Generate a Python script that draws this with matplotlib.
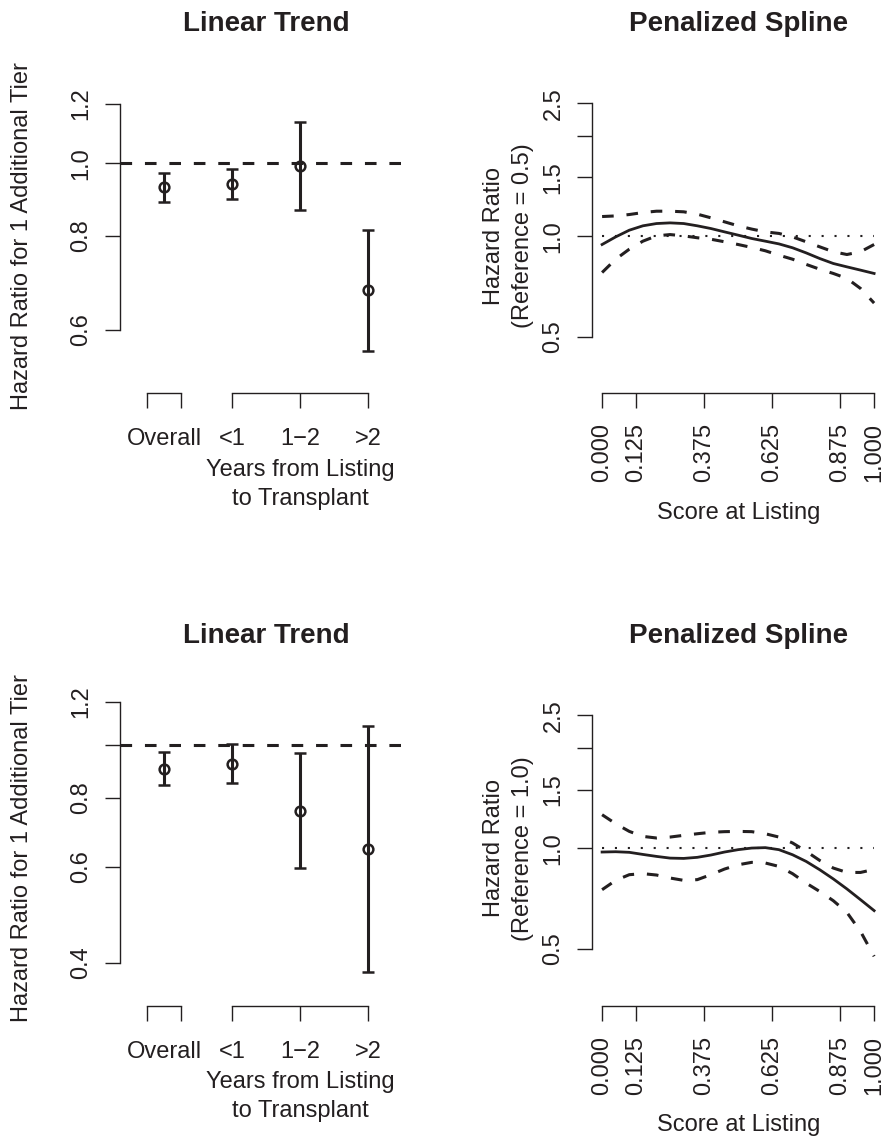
import numpy as np
import matplotlib
matplotlib.use('Agg')
from matplotlib import pyplot as plt

plt.rcParams['font.family'] = ['Liberation Sans', 'DejaVu Sans']
plt.rcParams['font.size'] = 17
INK = '#231f20'

# --- linear trend panels (hazard ratio per additional tier) ---
groups = ['Overall', '<1', '1\u22122', '>2']
group_x = [0, 1, 2, 3]
hr_top = [0.929, 0.938, 0.992, 0.677]
lo_top = [0.887, 0.896, 0.867, 0.563]
hi_top = [0.972, 0.983, 1.136, 0.814]
hr_bot = [0.904, 0.923, 0.759, 0.647]
lo_bot = [0.844, 0.852, 0.596, 0.386]
hi_bot = [0.970, 1.004, 0.968, 1.083]

# --- penalized spline panels ---
score = [0.00, 0.05, 0.10, 0.15, 0.20, 0.25, 0.30, 0.35, 0.40, 0.45, 0.50,
         0.55, 0.60, 0.65, 0.70, 0.75, 0.80, 0.85, 0.90, 0.95, 1.00]
fit_top = [0.944, 0.995, 1.042, 1.074, 1.091, 1.096, 1.091, 1.074, 1.054, 1.030, 1.007,
           0.984, 0.966, 0.948, 0.923, 0.891, 0.857, 0.828, 0.809, 0.791, 0.773]
upper_top = [1.145, 1.150, 1.161, 1.177, 1.188, 1.188, 1.183, 1.164, 1.135, 1.104, 1.074,
             1.050, 1.030, 1.019, 0.995, 0.962, 0.929, 0.898, 0.881, 0.898, 0.944]
lower_top = [0.778, 0.853, 0.914, 0.966, 1.002, 1.011, 1.002, 0.989, 0.979, 0.962, 0.944,
             0.925, 0.904, 0.877, 0.853, 0.823, 0.796, 0.773, 0.747, 0.697, 0.630]
fit_bot = [0.975, 0.977, 0.973, 0.959, 0.946, 0.935, 0.933, 0.940, 0.955, 0.975, 0.991,
           1.002, 1.005, 0.991, 0.957, 0.914, 0.863, 0.810, 0.756, 0.702, 0.651]
upper_bot = [1.261, 1.185, 1.124, 1.086, 1.074, 1.081, 1.094, 1.106, 1.117, 1.122, 1.124,
             1.122, 1.106, 1.081, 1.038, 0.980, 0.920, 0.873, 0.847, 0.847, 0.865]
lower_bot = [0.752, 0.802, 0.834, 0.840, 0.832, 0.815, 0.802, 0.806, 0.834, 0.867, 0.893,
             0.908, 0.904, 0.883, 0.840, 0.787, 0.743, 0.697, 0.643, 0.564, 0.475]

# tick labels
trend_ticks_top = [0.6, 0.8, 1.0, 1.2]
trend_labels_top = ['0.6', '0.8', '1.0', '1.2']
trend_ticks_bot = [0.4, 0.6, 0.8, 1.0, 1.2]
trend_labels_bot = ['0.4', '0.6', '0.8', '', '1.2']
spline_ticks = [0.5, 1.0, 1.5, 2.0, 2.5]
spline_labels = ['0.5', '1.0', '1.5', '', '2.5']
score_ticks = [0.0, 0.125, 0.375, 0.625, 0.875, 1.0]
score_labels = ['0.000', '0.125', '0.375', '0.625', '0.875', '1.000']

W, H = 882, 1136
DASH = (0, (3.8, 4.2))
TICK = 10.5


def px_axes(fig, x0, x1, top, bot):
	"""add axes given in pixel coordinates of the figure (origin top left)"""
	return fig.add_axes([x0 / W, 1 - bot / H, (x1 - x0) / W, (bot - top) / H])


def style_y(ax, ticks, labels, ylim):
	ax.set_yscale('log')
	ax.set_ylim(*ylim)
	ax.set_yticks(ticks, labels, rotation=90, va='center')
	ax.yaxis.set_minor_locator(matplotlib.ticker.NullLocator())
	ax.spines['left'].set_bounds(ticks[0], ticks[-1])
	for s in ['top', 'right']:
		ax.spines[s].set_visible(False)
	for s in ['left', 'bottom']:
		ax.spines[s].set_color(INK)
		ax.spines[s].set_linewidth(1)
	ax.tick_params(axis='y', length=TICK, width=1, pad=9.5, colors=INK)


def ylab(ax, text, off):
	ax.annotate(text, xy=(0, 0.5), xycoords='axes fraction', xytext=(-off, 0),
				textcoords='offset points', rotation=90, rotation_mode='anchor',
				ha='center', va='baseline', color=INK)


def trend_panel(ax, hr, lo, hi, ticks, labels, ylim):
	style_y(ax, ticks, labels, ylim)
	ax.set_xlim(-0.65, 3.66)
	ax.axhline(1, color=INK, lw=2.2, ls=DASH)
	hr = np.array(hr)
	ax.errorbar(group_x, hr, yerr=[hr - np.array(lo), np.array(hi) - hr], fmt='o',
				color=INK, mfc='none', ms=7, mew=1.8, elinewidth=2.2,
				capsize=4.3, capthick=2.2)
	# bracket style x axis: one piece for overall, one for the year groups
	ax.spines['bottom'].set_visible(False)
	tr = ax.get_xaxis_transform()
	ax.plot([-0.25, 0.25], [0, 0], transform=tr, clip_on=False, color=INK, lw=1)
	ax.plot([1, 3], [0, 0], transform=tr, clip_on=False, color=INK, lw=1)
	ax.xaxis.remove_overlapping_locs = False  # labels sit on the same spots as ticks
	ax.set_xticks([-0.25, 0.25, 1, 2, 3], [''] * 5)
	ax.set_xticks(group_x, groups, minor=True)
	ax.tick_params(axis='x', which='major', length=TICK, width=1, colors=INK)
	ax.tick_params(axis='x', which='minor', length=0, pad=25.2, colors=INK)
	ylab(ax, 'Hazard Ratio for 1 Additional Tier', 66)
	for txt, off in [('Years from Listing', 59.5), ('to Transplant', 80.2)]:
		ax.annotate(txt, xy=(2, 0), xycoords=('data', 'axes fraction'), xytext=(0, -off),
					textcoords='offset points', ha='center', va='baseline', color=INK)
	ax.set_title('Linear Trend', fontweight='bold', fontsize=20, pad=34.6, color=INK)


def spline_panel(ax, fit, upper, lower, ref):
	style_y(ax, spline_ticks, spline_labels, (0.338, 2.965))
	ax.set_xlim(-0.036, 1.04)
	ax.plot([0, 1], [1, 1], color=INK, lw=1.5, ls=(0, (1, 5.2)))
	ax.plot(score, upper, color=INK, lw=2.2, ls=DASH)
	ax.plot(score, lower, color=INK, lw=2.2, ls=DASH)
	ax.plot(score, fit, color=INK, lw=2.0)
	ax.spines['bottom'].set_bounds(0, 1)
	ax.set_xticks(score_ticks, score_labels, rotation=90)
	ax.tick_params(axis='x', length=TICK, width=1, pad=11, colors=INK)
	ylab(ax, 'Hazard Ratio', 66.5)
	ylab(ax, '(Reference = %s)' % ref, 45.8)
	ax.annotate('Score at Listing', xy=(0.5, 0), xycoords='axes fraction', xytext=(0, -90.5),
				textcoords='offset points', ha='center', va='baseline', color=INK)
	ax.set_title('Penalized Spline', fontweight='bold', fontsize=20, pad=34.6, color=INK)


fig = plt.figure(figsize=(W / 100, H / 100), dpi=100)

ax1 = px_axes(fig, 120, 413, 78.7, 393.3)
trend_panel(ax1, hr_top, lo_top, hi_top, trend_ticks_top, trend_labels_top, (0.4938, 1.2963))

ax2 = px_axes(fig, 592.3, 885, 78.7, 393.3)
spline_panel(ax2, fit_top, upper_top, lower_top, '0.5')

ax3 = px_axes(fig, 120, 413, 690.7, 1005.7)
trend_panel(ax3, hr_bot, lo_bot, hi_bot, trend_ticks_bot, trend_labels_bot, (0.3344, 1.2563))

ax4 = px_axes(fig, 592.3, 885, 690.7, 1005.7)
spline_panel(ax4, fit_bot, upper_bot, lower_bot, '1.0')

fig.savefig('out.png', dpi=100, facecolor='white')
